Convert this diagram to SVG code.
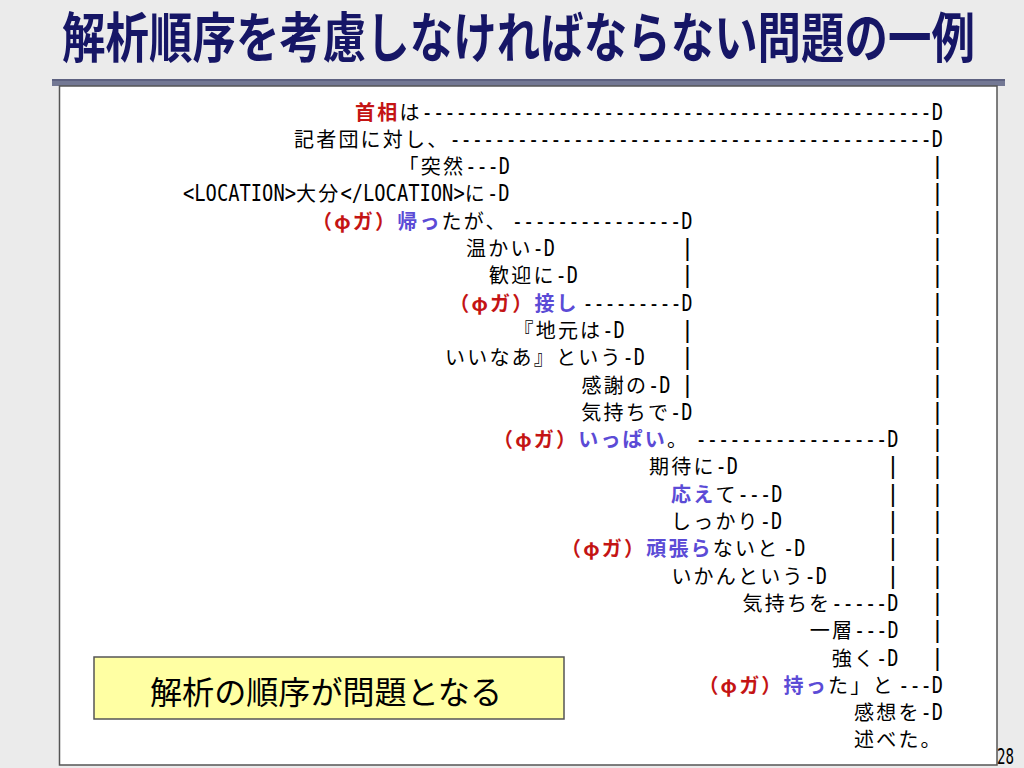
<svg xmlns="http://www.w3.org/2000/svg" width="1024" height="768" viewBox="0 0 1024 768">
<style>
.j{font-family:"Noto Sans CJK JP","Noto Sans CJK SC",sans-serif;font-size:20px;letter-spacing:2.2px;fill:#000}
.a{font-family:"DejaVu Sans Mono","Liberation Mono",monospace;font-size:23px;fill:#000}
.bar{font-family:"DejaVu Sans Mono","Liberation Mono",monospace;font-size:23px;fill:#000;text-anchor:middle}
.r{fill:#c41414;font-weight:bold}
.b{fill:#5b4bd6;font-weight:bold}
</style>
<rect x="0" y="0" width="1024" height="768" fill="#ebebeb"/>
<g id="title">
<text x="62" y="58" font-family="'Noto Sans CJK JP',sans-serif" font-size="54" font-weight="bold" fill="#161666" textLength="913" lengthAdjust="spacingAndGlyphs">解析順序を考慮しなければならない問題の一例</text>
</g>
<rect x="52" y="79" width="953" height="7" fill="#737894"/>
<rect x="52" y="79" width="953" height="2" fill="#5d6180"/>
<rect id="panel" x="59.5" y="86" width="937.5" height="679" fill="#ffffff" stroke="#555" stroke-width="1.5"/>
<g id="tree">
<g id="l1"><text class="j" x="355" y="119.5"><tspan class="r">首相</tspan>は</text><text class="a" x="421.6" y="119.5" textLength="521.4" lengthAdjust="spacingAndGlyphs">---------------------------------------------D</text></g>
<g id="l2"><text class="j" x="294" y="146.8">記者団に対し、</text><text class="a" x="449.4" y="146.8" textLength="493.6" lengthAdjust="spacingAndGlyphs">-------------------------------------------D</text></g>
<g id="l3"><text class="j" x="398.6" y="174.1">「突然</text><text class="a" x="465.2" y="174.1" textLength="44.8" lengthAdjust="spacingAndGlyphs">---D</text><text class="bar" x="937.5" y="174.1">|</text></g>
<g id="l4"><text class="a" x="183" y="201.4" textLength="113" lengthAdjust="spacingAndGlyphs">&lt;LOCATION&gt;</text><text class="j" x="296" y="201.4">大分</text><text class="a" x="340.4" y="201.4" textLength="124.3" lengthAdjust="spacingAndGlyphs">&lt;/LOCATION&gt;</text><text class="j" x="464.7" y="201.4">に</text><text class="a" x="486.9" y="201.4" textLength="22.6" lengthAdjust="spacingAndGlyphs">-D</text><text class="bar" x="937.5" y="201.4">|</text></g>
<g id="l5"><text class="j" x="312" y="228.7"><tspan class="r">（φガ）</tspan><tspan class="b">帰っ</tspan>たが、</text><text class="a" x="511.8" y="228.7" textLength="180.7" lengthAdjust="spacingAndGlyphs">---------------D</text><text class="bar" x="937.5" y="228.7">|</text></g>
<g id="l6"><text class="j" x="466" y="256">温かい</text><text class="a" x="532.6" y="256" textLength="22.4" lengthAdjust="spacingAndGlyphs">-D</text><text class="bar" x="687.5" y="256">|</text><text class="bar" x="937.5" y="256">|</text></g>
<g id="l7"><text class="j" x="489" y="283.3">歓迎に</text><text class="a" x="555.6" y="283.3" textLength="22.4" lengthAdjust="spacingAndGlyphs">-D</text><text class="bar" x="687.5" y="283.3">|</text><text class="bar" x="937.5" y="283.3">|</text></g>
<g id="l8"><text class="j" x="449.2" y="310.6"><tspan class="r">（φガ）</tspan><tspan class="b">接し</tspan></text><text class="a" x="582.4" y="310.6" textLength="110.1" lengthAdjust="spacingAndGlyphs">---------D</text><text class="bar" x="937.5" y="310.6">|</text></g>
<g id="l9"><text class="j" x="513.5" y="337.9">『地元は</text><text class="a" x="602.3" y="337.9" textLength="22.4" lengthAdjust="spacingAndGlyphs">-D</text><text class="bar" x="687.5" y="337.9">|</text><text class="bar" x="937.5" y="337.9">|</text></g>
<g id="l10"><text class="j" x="445" y="365.2">いいなあ』という</text><text class="a" x="622.6" y="365.2" textLength="22.4" lengthAdjust="spacingAndGlyphs">-D</text><text class="bar" x="687.5" y="365.2">|</text><text class="bar" x="937.5" y="365.2">|</text></g>
<g id="l11"><text class="j" x="581.5" y="392.5">感謝の</text><text class="a" x="648.1" y="392.5" textLength="22.4" lengthAdjust="spacingAndGlyphs">-D</text><text class="bar" x="687.5" y="392.5">|</text><text class="bar" x="937.5" y="392.5">|</text></g>
<g id="l12"><text class="j" x="581.3" y="419.8">気持ちで</text><text class="a" x="670.1" y="419.8" textLength="22.4" lengthAdjust="spacingAndGlyphs">-D</text><text class="bar" x="937.5" y="419.8">|</text></g>
<g id="l13"><text class="j" x="493" y="447.1"><tspan class="r">（φガ）</tspan><tspan class="b">いっぱい</tspan>。</text><text class="a" x="695.5" y="447.1" textLength="203" lengthAdjust="spacingAndGlyphs">-----------------D</text><text class="bar" x="937.5" y="447.1">|</text></g>
<g id="l14"><text class="j" x="649" y="474.4">期待に</text><text class="a" x="715.6" y="474.4" textLength="22.4" lengthAdjust="spacingAndGlyphs">-D</text><text class="bar" x="893" y="474.4">|</text><text class="bar" x="937.5" y="474.4">|</text></g>
<g id="l15"><text class="j" x="671" y="501.7"><tspan class="b">応え</tspan>て</text><text class="a" x="737.6" y="501.7" textLength="44.8" lengthAdjust="spacingAndGlyphs">---D</text><text class="bar" x="893" y="501.7">|</text><text class="bar" x="937.5" y="501.7">|</text></g>
<g id="l16"><text class="j" x="671" y="529">しっかり</text><text class="a" x="759.8" y="529" textLength="22.4" lengthAdjust="spacingAndGlyphs">-D</text><text class="bar" x="893" y="529">|</text><text class="bar" x="937.5" y="529">|</text></g>
<g id="l17"><text class="j" x="561" y="556.3"><tspan class="r">（φガ）</tspan><tspan class="b">頑張ら</tspan>ないと</text><text class="a" x="783" y="556.3" textLength="22.4" lengthAdjust="spacingAndGlyphs">-D</text><text class="bar" x="893" y="556.3">|</text><text class="bar" x="937.5" y="556.3">|</text></g>
<g id="l18"><text class="j" x="671.4" y="583.6">いかんという</text><text class="a" x="804.6" y="583.6" textLength="22.4" lengthAdjust="spacingAndGlyphs">-D</text><text class="bar" x="893" y="583.6">|</text><text class="bar" x="937.5" y="583.6">|</text></g>
<g id="l19"><text class="j" x="742.5" y="610.9">気持ちを</text><text class="a" x="831.3" y="610.9" textLength="67.2" lengthAdjust="spacingAndGlyphs">-----D</text><text class="bar" x="937.5" y="610.9">|</text></g>
<g id="l20"><text class="j" x="809.7" y="638.2">一層</text><text class="a" x="854.1" y="638.2" textLength="44.4" lengthAdjust="spacingAndGlyphs">---D</text><text class="bar" x="937.5" y="638.2">|</text></g>
<g id="l21"><text class="j" x="831.7" y="665.5">強く</text><text class="a" x="876.1" y="665.5" textLength="22.4" lengthAdjust="spacingAndGlyphs">-D</text><text class="bar" x="937.5" y="665.5">|</text></g>
<g id="l22"><text class="j" x="698.4" y="692.8"><tspan class="r">（φガ）</tspan><tspan class="b">持っ</tspan>た」と</text><text class="a" x="898.2" y="692.8" textLength="44.8" lengthAdjust="spacingAndGlyphs">---D</text></g>
<g id="l23"><text class="j" x="854" y="720.1">感想を</text><text class="a" x="920.6" y="720.1" textLength="22.4" lengthAdjust="spacingAndGlyphs">-D</text></g>
<g id="l24"><text class="j" x="854" y="747.4">述べた。</text></g>
</g>
<g id="note">
<rect x="94" y="657" width="470" height="62" fill="#ffffa3" stroke="#555" stroke-width="1.5"/>
<text x="150" y="704" font-family="'Noto Sans CJK JP',sans-serif" font-size="32" fill="#000" textLength="352" lengthAdjust="spacingAndGlyphs">解析の順序が問題となる</text>
</g>
<text x="997" y="764" font-family="'DejaVu Sans Mono',monospace" font-size="21" fill="#000" textLength="17" lengthAdjust="spacingAndGlyphs">28</text>
</svg>
